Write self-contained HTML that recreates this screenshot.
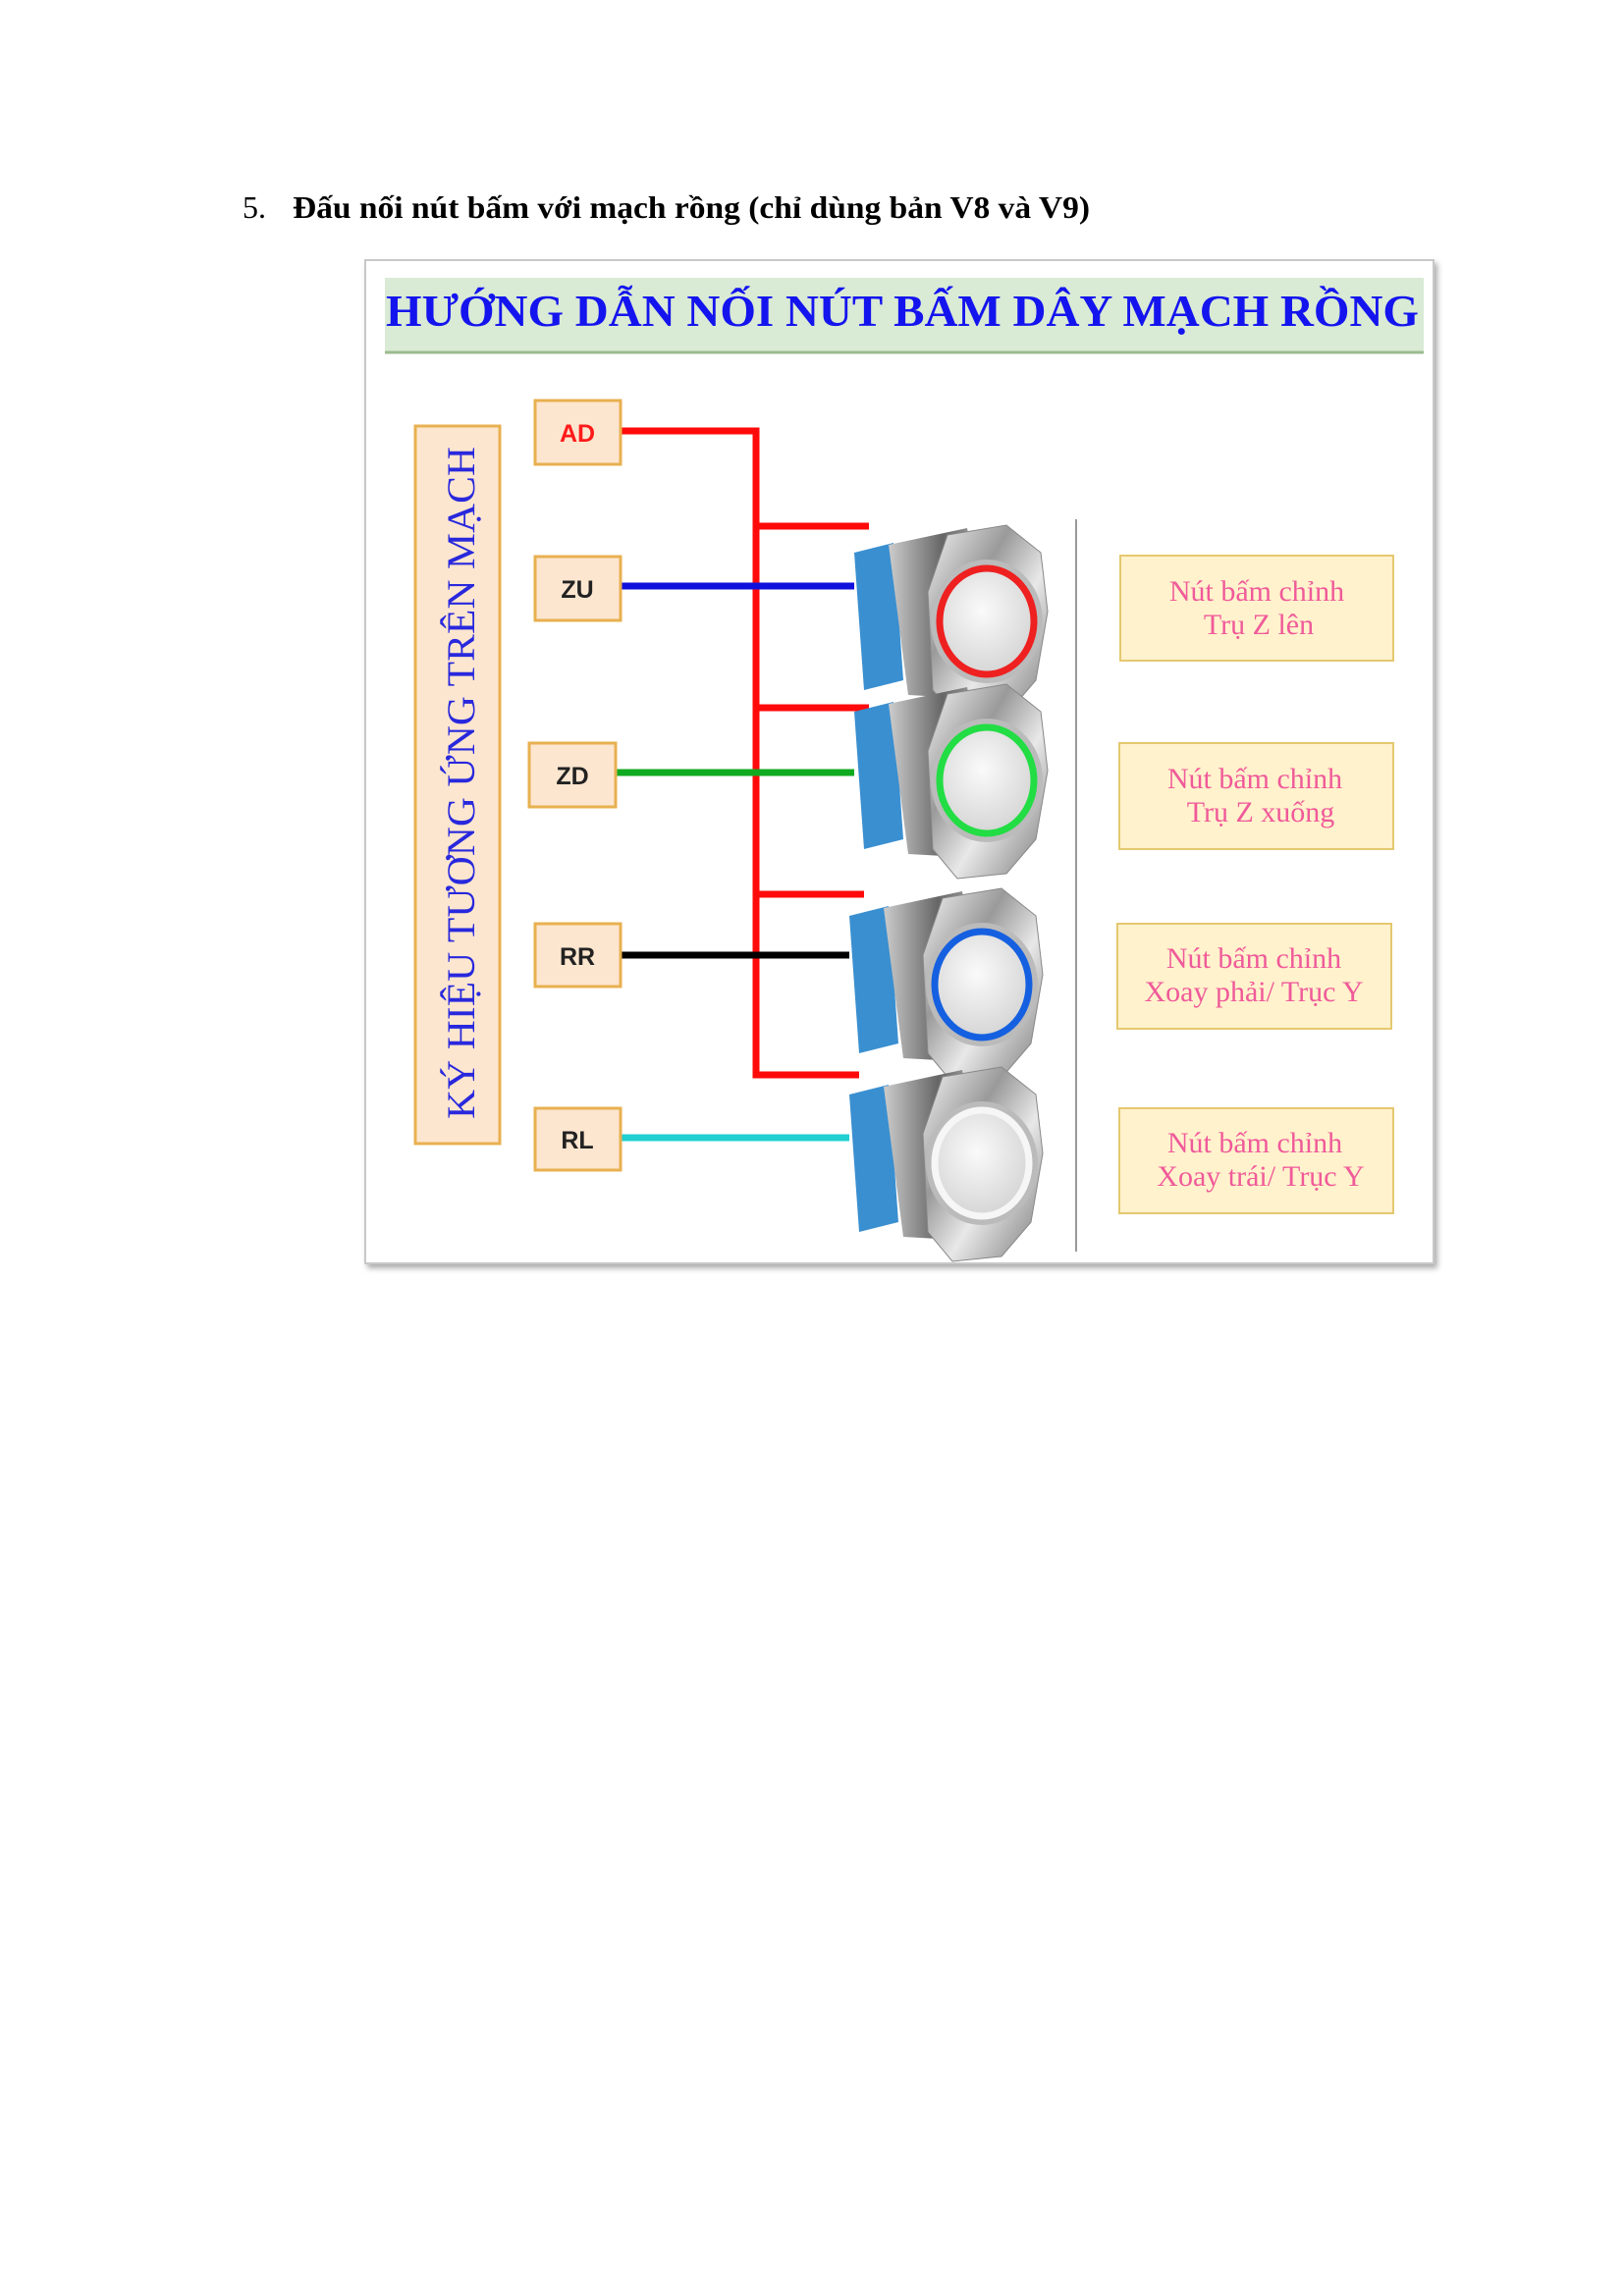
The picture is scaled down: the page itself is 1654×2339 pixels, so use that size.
<!DOCTYPE html>
<html><head><meta charset="utf-8">
<style>
html,body{margin:0;padding:0;background:#fff;}
svg{display:block;}
</style></head>
<body>
<svg width="1654" height="2339" viewBox="0 0 1654 2339" xmlns="http://www.w3.org/2000/svg">
<defs>
<linearGradient id="silver" x1="0" y1="0" x2="1" y2="1">
<stop offset="0" stop-color="#f4f4f4"/><stop offset="0.35" stop-color="#9a9a9a"/><stop offset="0.6" stop-color="#e8e8e8"/><stop offset="1" stop-color="#777"/>
</linearGradient>
<linearGradient id="thread" x1="0" y1="0" x2="1" y2="0">
<stop offset="0" stop-color="#ccc"/><stop offset="0.5" stop-color="#666"/><stop offset="1" stop-color="#bbb"/>
</linearGradient>
<radialGradient id="face" cx="0.45" cy="0.4" r="0.7">
<stop offset="0" stop-color="#fafafa"/><stop offset="1" stop-color="#cfcfcf"/>
</radialGradient>
<filter id="sh" x="-5%" y="-5%" width="110%" height="110%"><feDropShadow dx="3" dy="4" stdDeviation="3" flood-color="#888" flood-opacity="0.7"/></filter>
<g id="btn">
<path d="M-135,-70 L-95,-80 L-85,60 L-125,70 Z" fill="#3a8fd0"/>
<path d="M-100,-78 L-20,-95 L10,80 L-80,75 Z" fill="url(#thread)"/>
<path d="M-40,-88 L20,-98 L55,-70 L62,-10 L50,60 L20,95 L-30,100 L-55,70 L-60,-30 Z" fill="url(#silver)" stroke="#888" stroke-width="1"/>
<ellipse cx="0" cy="0" rx="57" ry="63" fill="#bbb"/>
<ellipse cx="0" cy="0" rx="49" ry="55" fill="url(#face)"/>
</g>
</defs>

<text x="247" y="222" font-family="Liberation Serif, serif" font-size="32" fill="#000">5.</text>
<text x="298" y="222" font-family="Liberation Serif, serif" font-size="32" font-weight="bold" fill="#000" textLength="812" lengthAdjust="spacingAndGlyphs">Đấu nối nút bấm với mạch rồng (chỉ dùng bản V8 và V9)</text>

<rect x="372" y="265" width="1088" height="1022" fill="#fff" stroke="#c8c8c8" stroke-width="2" filter="url(#sh)"/>
<rect x="392" y="283" width="1058" height="77" fill="#d9ead5"/>
<line x1="392" y1="359" x2="1450" y2="359" stroke="#9bbb8f" stroke-width="3"/>
<text x="393" y="332" font-family="Liberation Serif, serif" font-size="46" font-weight="bold" fill="#1414ee" textLength="1052" lengthAdjust="spacingAndGlyphs">HƯỚNG DẪN NỐI NÚT BẤM DÂY MẠCH RỒNG</text>

<rect x="423" y="434" width="86" height="731" fill="#fde6cf" stroke="#e8b050" stroke-width="3"/>
<text transform="translate(483,1140) rotate(-90)" font-family="Liberation Serif, serif" font-size="40" fill="#2828dd" textLength="685" lengthAdjust="spacingAndGlyphs">KÝ HIỆU TƯƠNG ỨNG TRÊN MẠCH</text>

<g stroke-width="7" fill="none">
<polyline points="632,439 770,439 770,1095 875,1095" stroke="#ff0a0a"/>
<line x1="770" y1="536" x2="885" y2="536" stroke="#ff0a0a"/>
<line x1="770" y1="721" x2="885" y2="721" stroke="#ff0a0a"/>
<line x1="770" y1="911" x2="880" y2="911" stroke="#ff0a0a"/>
<line x1="632" y1="597" x2="870" y2="597" stroke="#1010dd"/>
<line x1="626" y1="787" x2="870" y2="787" stroke="#10aa20"/>
<line x1="632" y1="973" x2="865" y2="973" stroke="#000"/>
<line x1="632" y1="1159" x2="865" y2="1159" stroke="#20d0d0"/>
</g>

<g font-family="Liberation Sans, sans-serif" font-size="25" font-weight="bold" text-anchor="middle">
<rect x="545" y="408" width="87" height="65" fill="#fde6cf" stroke="#e8b050" stroke-width="3"/>
<text x="588" y="450" fill="#ff1a1a">AD</text>
<rect x="545" y="567" width="87" height="65" fill="#fde6cf" stroke="#e8b050" stroke-width="3"/>
<text x="588" y="609" fill="#222">ZU</text>
<rect x="539" y="757" width="88" height="65" fill="#fde6cf" stroke="#e8b050" stroke-width="3"/>
<text x="583" y="799" fill="#222">ZD</text>
<rect x="545" y="941" width="87" height="64" fill="#fde6cf" stroke="#e8b050" stroke-width="3"/>
<text x="588" y="983" fill="#222">RR</text>
<rect x="545" y="1129" width="87" height="63" fill="#fde6cf" stroke="#e8b050" stroke-width="3"/>
<text x="588" y="1170" fill="#222">RL</text>
</g>

<g transform="translate(1005,633)"><use href="#btn"/><ellipse rx="48" ry="54" fill="none" stroke="#ee2020" stroke-width="7"/></g>
<g transform="translate(1005,795)"><use href="#btn"/><ellipse rx="48" ry="54" fill="none" stroke="#22dd44" stroke-width="7"/></g>
<g transform="translate(1000,1003)"><use href="#btn"/><ellipse rx="48" ry="54" fill="none" stroke="#1560e0" stroke-width="7"/></g>
<g transform="translate(1000,1185)"><use href="#btn"/><ellipse rx="48" ry="54" fill="none" stroke="#f6f6f6" stroke-width="7"/></g>

<line x1="1096" y1="529" x2="1096" y2="1275" stroke="#999" stroke-width="2"/>

<g font-family="Liberation Serif, serif" font-size="30" fill="#f05a9a" text-anchor="middle">
<rect x="1141" y="566" width="278" height="107" fill="#fff2cc" stroke="#e5c870" stroke-width="2"/>
<text x="1280" y="612">Nút bấm chỉnh</text><text x="1282" y="646">Trụ Z lên</text>
<rect x="1140" y="757" width="279" height="108" fill="#fff2cc" stroke="#e5c870" stroke-width="2"/>
<text x="1278" y="803">Nút bấm chỉnh</text><text x="1284" y="837">Trụ Z xuống</text>
<rect x="1138" y="941" width="279" height="107" fill="#fff2cc" stroke="#e5c870" stroke-width="2"/>
<text x="1277" y="986">Nút bấm chỉnh</text><text x="1277" y="1020">Xoay phải/ Trục Y</text>
<rect x="1140" y="1129" width="279" height="107" fill="#fff2cc" stroke="#e5c870" stroke-width="2"/>
<text x="1278" y="1174">Nút bấm chỉnh</text><text x="1284" y="1208">Xoay trái/ Trục Y</text>
</g>
</svg>
</body></html>
